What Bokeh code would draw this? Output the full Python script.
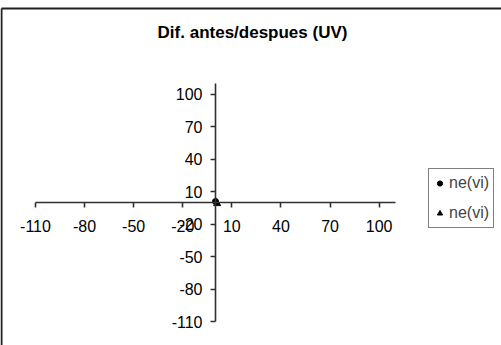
from bokeh.plotting import figure
from bokeh.models import (Range1d, LinearAxis, FixedTicker, Legend, LegendItem,
                          Label, Arrow)
from bokeh.embed import file_html
from bokeh.resources import INLINE

# ---- data -------------------------------------------------------------
title_text = "Dif. antes/despues (UV)"
x_ticks = [-110, -80, -50, -20, 10, 40, 70, 100]
y_ticks = [-110, -80, -50, -20, 10, 40, 70, 100]
axis_min, axis_max = -110, 110
series_labels = ["ne(vi)", "ne(vi)"]
circle_x = [0]
circle_y = [1]
triangle_x = [1]
triangle_y = [-1]

# ---- layout -----------------------------------------------------------
W, H = 501, 345
FONT = "Liberation Sans"
# the axis span (-110..110) occupies px 35..395 across and px 83..321 down
left_px, right_px = 35, 395
top_px, bottom_px = 83, 321
sx = (right_px - left_px) / (axis_max - axis_min)
sy = (bottom_px - top_px) / (axis_max - axis_min)
x0 = axis_min - left_px / sx
y1 = axis_max + top_px / sy

p = figure(width=W, height=H, x_range=Range1d(x0, x0 + W / sx),
           y_range=Range1d(y1 - H / sy, y1), x_axis_type=None, y_axis_type=None,
           toolbar_location=None, output_backend="svg", min_border=0,
           outline_line_color=None, background_fill_color="white",
           border_fill_color="white")
p.grid.visible = False

axis_style = dict(axis_line_color="#303030", axis_line_width=1.6,
                  major_tick_line_color="#303030", major_tick_line_width=1.6,
                  major_tick_in=0, major_tick_out=5,
                  minor_tick_in=0, minor_tick_out=0,
                  major_label_text_font=FONT, major_label_text_font_size="16px",
                  major_label_text_color="black",
                  bounds=(axis_min, axis_max))

# plain hyphen-minus labels
xaxis = LinearAxis(fixed_location=0, ticker=FixedTicker(ticks=x_ticks),
                   major_label_overrides={t: str(t) for t in x_ticks},
                   major_label_standoff=12, **axis_style)
yaxis = LinearAxis(fixed_location=0, ticker=FixedTicker(ticks=y_ticks),
                   major_label_overrides={t: str(t) for t in y_ticks},
                   major_label_standoff=8, **axis_style)
p.add_layout(xaxis, "below")
p.add_layout(yaxis, "left")

r1 = p.scatter(circle_x, circle_y, marker="circle", size=6,
               fill_color="black", line_color="black")
r2 = p.scatter(triangle_x, triangle_y, marker="triangle", size=7,
               fill_color="black", line_color="black")

legend = Legend(items=[LegendItem(label=series_labels[0], renderers=[r1]),
                       LegendItem(label=series_labels[1], renderers=[r2])],
                location=(428, 117), margin=0, padding=4, spacing=10,
                glyph_width=13, glyph_height=20, label_height=20,
                label_standoff=3, label_text_font=FONT,
                label_text_font_size="16px",
                border_line_color="black", border_line_width=1.2,
                background_fill_color="white", background_fill_alpha=1)
p.add_layout(legend)

p.add_layout(Label(x=252, y=H - 32, x_units="screen", y_units="screen",
                   text=title_text, text_align="center", text_baseline="middle",
                   text_font=FONT, text_font_size="17px",
                   text_font_style="bold", text_color="black"))

# chart-area frame: only its top and left edges fall inside the page
frame_style = dict(start_units="screen", end_units="screen", end=None,
                   line_color="#202020", line_width=2)
p.add_layout(Arrow(x_start=1, y_start=H - 8, x_end=W, y_end=H - 8, **frame_style))
p.add_layout(Arrow(x_start=1, y_start=H - 8, x_end=1, y_end=0, **frame_style))

open("out.html", "w").write(file_html(p, INLINE))
